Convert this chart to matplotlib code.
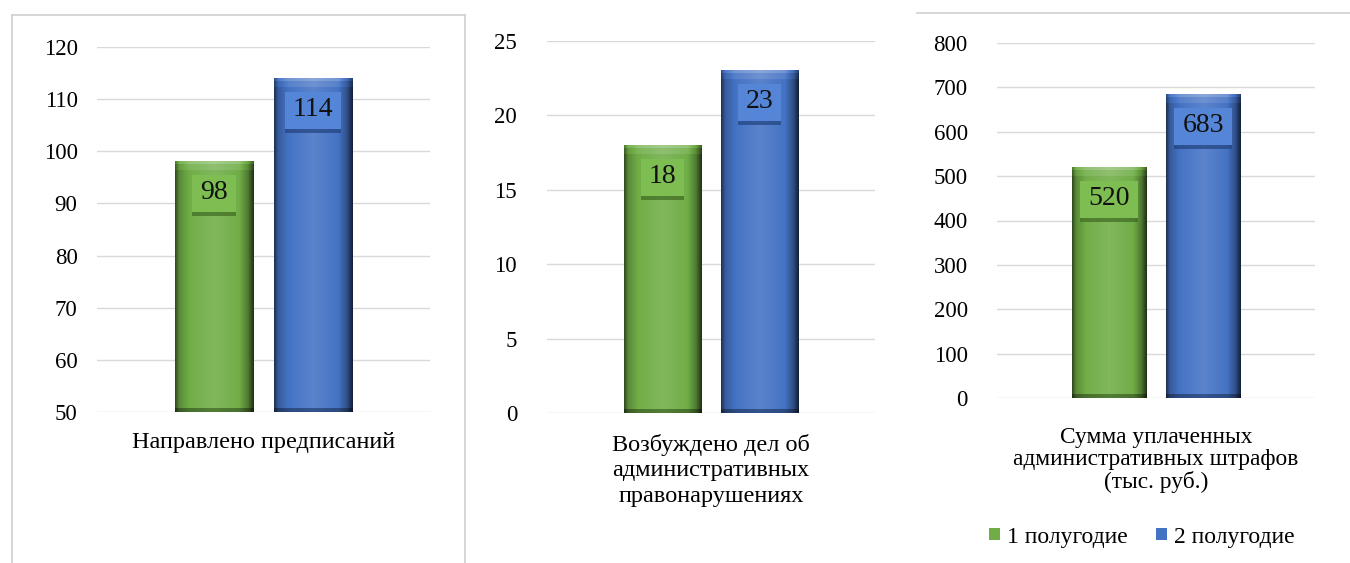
import numpy as np
import matplotlib.pyplot as plt
from matplotlib.patches import Rectangle
from matplotlib.lines import Line2D
from matplotlib.transforms import IdentityTransform

plt.rcParams['font.family'] = ['Liberation Serif', 'DejaVu Serif']

# --- data ---
categories = [
    "Направлено предписаний",
    "Возбуждено дел об\nадминистративных\nправонарушениях",
    "Сумма уплаченных\nадминистративных штрафов\n(тыс. руб.)",
]
half_1 = [98, 18, 520]
half_2 = [114, 23, 683]
series_names = ["1 полугодие", "2 полугодие"]
y_ranges = [(50, 120, 10), (0, 25, 5), (0, 800, 100)]

W, H = 1350, 563
fig = plt.figure(figsize=(W / 100, H / 100), dpi=100)
fig.patch.set_facecolor("white")
renderer = fig.canvas.get_renderer()

# plot areas in pixels: left, top, right, bottom
boxes = [(97, 47, 430, 412), (547, 41, 875, 413), (997, 43, 1315, 398)]
ytick_pads = [14, 21.5, 21]
xtick_pads = [14.5, 15, 21]
cat_sizes = [17.5, 17.5, 16.8]
cat_spacing = [1.0, 1.28, 1.05]

GREEN = np.array([0.44, 0.68, 0.28])
BLUE = np.array([0.27, 0.45, 0.77])
colors = [GREEN, BLUE]
box_colors = ["#7dbd52", "#5585d6"]
shadow_colors = ["#3f6a22", "#22427e"]

BAR_W = 0.235
OFFSET = 0.148


def shade(base, f):
    # f < 1 darkens, f > 1 mixes towards white
    if f <= 1:
        return base * f
    return base + (1 - base) * (f - 1)


def draw_bar(ax, x, w, bottom, top, base):
    (px0, py0), (px1, py1) = ax.transData.transform([(x - w / 2, bottom), (x + w / 2, top)])
    nx = max(int(round(px1 - px0)), 2)
    ny = max(int(round(py1 - py0)), 2)
    t = np.linspace(0, 1, nx)
    hprof = np.interp(t, [0, 0.05, 0.18, 0.5, 0.82, 0.93, 1],
                      [0.45, 0.8, 1.0, 1.12, 1.0, 0.7, 0.3])
    rows = np.arange(ny)
    vprof = np.ones(ny)
    vprof[rows < 3] = 1.25
    vprof[(rows >= 3) & (rows < 9)] = 1.1
    vprof[rows >= ny - 4] = 0.65
    img = np.zeros((ny, nx, 3))
    for i in range(ny):
        for j in range(nx):
            f = hprof[j] * vprof[i] if vprof[i] < 1 else hprof[j] + (vprof[i] - 1)
            img[i, j] = shade(base, f)
    img = np.clip(img, 0, 1)
    ax.imshow(img, extent=[x - w / 2, x + w / 2, bottom, top], aspect="auto",
              origin="upper", interpolation="bilinear", zorder=3)


def label_box(ax, txt, s):
    # raised box behind the value label, sized from the rendered text
    bb = txt.get_window_extent(renderer)
    px, py = 8, 8
    x0, y0 = bb.x0 - px, bb.y0 - py + 1
    w, h = bb.width + 2 * px, bb.height + 2 * py - 4
    ax.add_patch(Rectangle((x0, y0 - 4), w, h, transform=IdentityTransform(),
                           fc=shadow_colors[s], ec="none", alpha=0.7, zorder=4))
    ax.add_patch(Rectangle((x0, y0), w, h, transform=IdentityTransform(),
                           fc=box_colors[s], ec="none", zorder=4.5))


for k, ax_box in enumerate(boxes):
    l, t, r, b = ax_box
    ax = fig.add_axes([l / W, 1 - b / H, (r - l) / W, (b - t) / H])
    lo, hi, step = y_ranges[k]
    ax.set_xlim(-0.5, 0.5)
    ax.set_ylim(lo, hi)

    vals = [half_1[k], half_2[k]]
    for s, v in enumerate(vals):
        x = (-OFFSET if s == 0 else OFFSET)
        draw_bar(ax, x, BAR_W, lo, v, colors[s])
    ax.set_xlim(-0.5, 0.5)
    ax.set_ylim(lo, hi)
    for s, v in enumerate(vals):
        x = (-OFFSET if s == 0 else OFFSET)
        txt = ax.annotate(str(v), xy=(x, v), xytext=(0, -31), textcoords="offset pixels",
                          ha="center", va="center", fontsize=20, color="#111111", zorder=5)
        label_box(ax, txt, s)

    ax.set_yticks(np.arange(lo, hi + step, step))
    ax.set_xticks([0])
    ax.set_xticklabels([categories[k]], fontsize=cat_sizes[k], linespacing=cat_spacing[k])
    ax.tick_params(axis="y", length=0, labelsize=16.5, pad=ytick_pads[k])
    ax.tick_params(axis="x", length=0, pad=xtick_pads[k])
    ax.yaxis.grid(True, color="#d9d9d9", lw=1)
    ax.set_axisbelow(True)
    for sp in ax.spines.values():
        sp.set_visible(False)

# panel frames
frame_kw = dict(color="#d0d0d0", lw=1.2, transform=fig.transFigure)
fig.add_artist(Line2D([12 / W, 12 / W], [1 - 15 / H, 0], **frame_kw))
fig.add_artist(Line2D([12 / W, 465 / W], [1 - 15 / H, 1 - 15 / H], **frame_kw))
fig.add_artist(Line2D([465 / W, 465 / W], [1 - 15 / H, 0], **frame_kw))
fig.add_artist(Line2D([917 / W, 1], [1 - 13 / H, 1 - 13 / H], **frame_kw))

handles = [Rectangle((0, 0), 1, 1, fc=c, ec="none") for c in colors]
fig.legend(handles, series_names, loc="center", bbox_to_anchor=(1142 / W, 1 - 537 / H),
           ncol=2, frameon=False, fontsize=17, handlelength=0.45, handleheight=0.45,
           handletextpad=0.3, columnspacing=1.2)

fig.savefig("out.png", dpi=100)
